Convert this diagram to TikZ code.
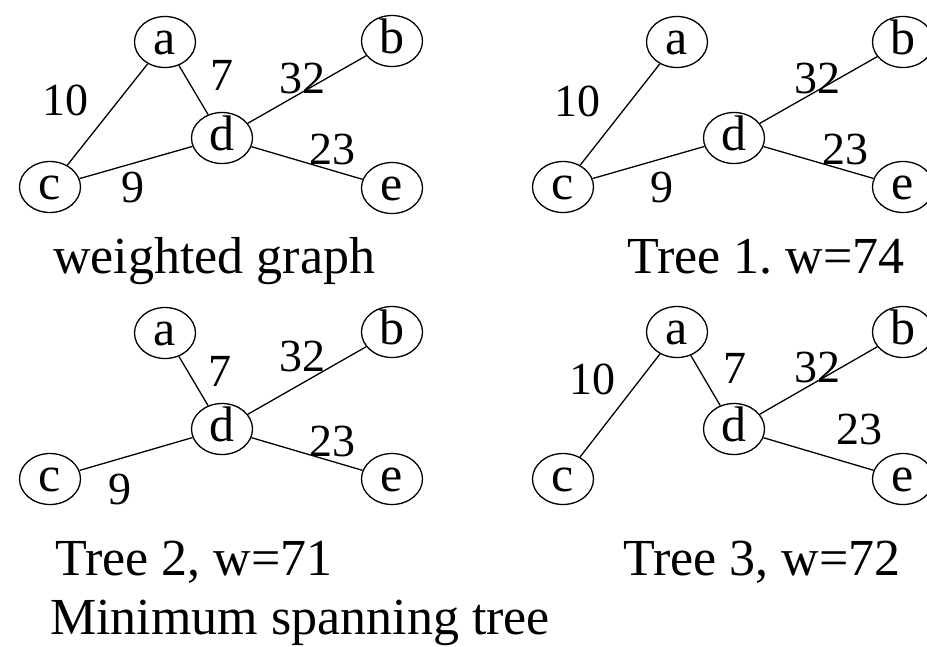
\documentclass[tikz,border=0pt]{standalone}
\usepackage{fontspec}
\setmainfont{Liberation Serif}
\usetikzlibrary{shapes.geometric}
\begin{document}
\begin{tikzpicture}[x=1pt,y=-1pt,
  vert/.style={ellipse,draw,line width=1.3pt,minimum width=61pt,minimum height=51pt,inner sep=0pt,text height=24pt,text depth=0pt,font=\fontsize{50}{56}\selectfont},
  wlab/.style={inner sep=0pt,text height=32pt,text depth=0pt,font=\fontsize{46}{52}\selectfont},
  capt/.style={anchor=base west,inner sep=0pt,font=\fontsize{52}{60}\selectfont},
  edge/.style={line width=1.3pt}]
\frenchspacing
\useasboundingbox[fill=white] (0,0) rectangle (927,646);
% Panel 1: weighted graph
\node[vert] (a1) at (165,42) {a};
\node[vert] (b1) at (392,41) {b};
\node[vert] (d1) at (222,138) {d};
\node[vert] (c1) at (50,187) {c};
\node[vert] (e1) at (392,188) {e};
\draw[edge] (a1) -- (c1);
\draw[edge] (a1) -- (d1);
\draw[edge] (d1) -- (b1);
\draw[edge] (d1) -- (c1);
\draw[edge] (d1) -- (e1);
\node[wlab] (l1ac) at (65,99) {10};
\node[wlab] (l1ad) at (222,74) {7};
\node[wlab] (l1db) at (302,77) {32};
\node[wlab] (l1de) at (332,148) {23};
\node[wlab] (l1dc) at (133,186) {9};
\node[capt] (t1) at (53,273) {weighted graph};
% Panel 2: Tree 1
\node[vert] (a2) at (677,42) {a};
\node[vert] (b2) at (903,42) {b};
\node[vert] (d2) at (734,138) {d};
\node[vert] (c2) at (563,187) {c};
\node[vert] (e2) at (903,187) {e};
\draw[edge] (a2) -- (c2);
\draw[edge] (c2) -- (d2);
\draw[edge] (d2) -- (b2);
\draw[edge] (d2) -- (e2);
\node[wlab] (l2ac) at (577,100) {10};
\node[wlab] (l2db) at (817,77) {32};
\node[wlab] (l2de) at (845,148) {23};
\node[wlab] (l2dc) at (662,186) {9};
\node[capt] (t2) at (627,273) {Tree 1. w=74};
% Panel 3: Tree 2
\node[vert] (a3) at (165,333) {a};
\node[vert] (b3) at (392,332) {b};
\node[vert] (d3) at (222,429) {d};
\node[vert] (c3) at (50,479) {c};
\node[vert] (e3) at (392,479) {e};
\draw[edge] (a3) -- (d3);
\draw[edge] (d3) -- (b3);
\draw[edge] (d3) -- (c3);
\draw[edge] (d3) -- (e3);
\node[wlab] (l3ad) at (220,370) {7};
\node[wlab] (l3db) at (302,355) {32};
\node[wlab] (l3de) at (332,440) {23};
\node[wlab] (l3dc) at (120,488) {9};
\node[capt] (t3) at (55,575) {Tree 2, w=71};
% Panel 4: Tree 3
\node[vert] (a4) at (677,332) {a};
\node[vert] (b4) at (903,332) {b};
\node[vert] (d4) at (734,429) {d};
\node[vert] (c4) at (563,479) {c};
\node[vert] (e4) at (903,479) {e};
\draw[edge] (a4) -- (c4);
\draw[edge] (a4) -- (d4);
\draw[edge] (d4) -- (b4);
\draw[edge] (d4) -- (e4);
\node[wlab] (l4ac) at (592,378) {10};
\node[wlab] (l4ad) at (735,367) {7};
\node[wlab] (l4db) at (817,366) {32};
\node[wlab] (l4de) at (859,428) {23};
\node[capt] (t4) at (623,575) {Tree 3, w=72};
% Overall caption
\node[capt] (tm) at (50,634) {Minimum spanning tree};
\end{tikzpicture}
\end{document}
